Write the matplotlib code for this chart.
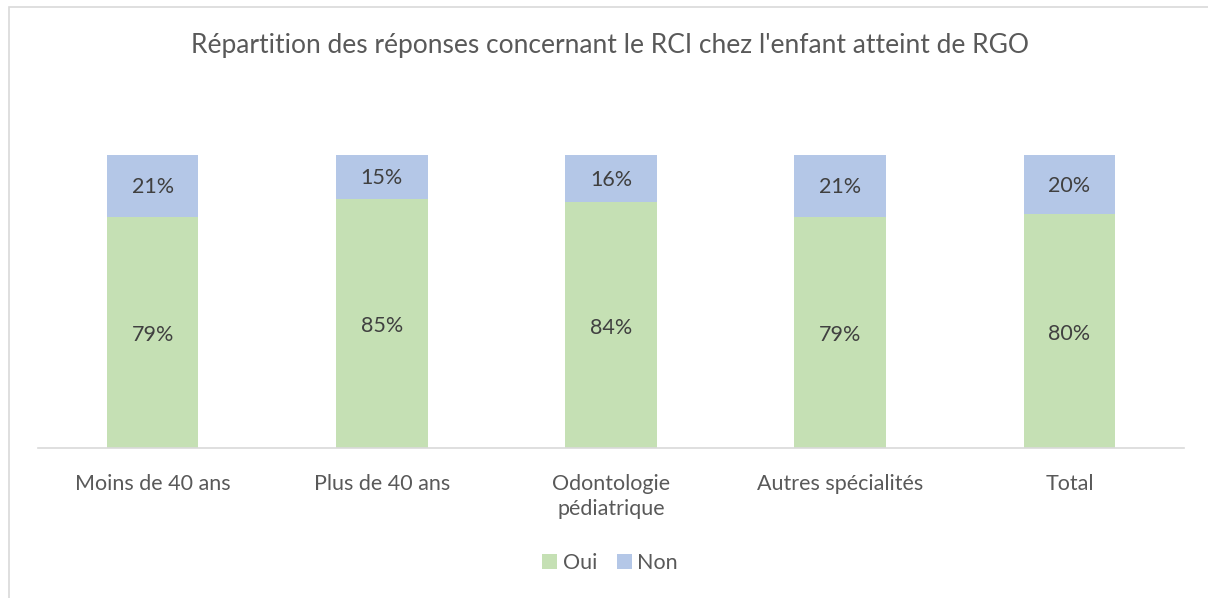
import matplotlib
matplotlib.use("Agg")
import matplotlib.pyplot as plt
from matplotlib.patches import Rectangle
import numpy as np

plt.rcParams["font.family"] = ["Lato", "DejaVu Sans"]

categories = ["Moins de 40 ans", "Plus de 40 ans", "Odontologie\npédiatrique",
              "Autres spécialités", "Total"]
oui = [79, 85, 84, 79, 80]
non = [21, 15, 16, 21, 20]

GREEN = "#C5E0B4"
BLUE = "#B4C7E7"
TXT = "#595959"
LBL = "#404040"

W, H = 1208, 598
fig = plt.figure(figsize=(W / 100, H / 100), dpi=100)
fig.patches.append(Rectangle((9 / W, -0.1), 1.2, 1 - 7 / H + 0.1,
                             transform=fig.transFigure, fill=False,
                             edgecolor="#D9D9D9", linewidth=1.2))

ax = fig.add_axes([38 / W, 1 - 448 / H, (1184 - 38) / W, (448 - 155) / H])
x = np.arange(len(categories))
ax.bar(x, oui, width=0.4, color=GREEN, label="Oui")
ax.bar(x, non, width=0.4, bottom=oui, color=BLUE, label="Non")

for xi, o, n in zip(x, oui, non):
    ax.text(xi, o / 2 - 1, f"{o}%", ha="center", va="center", fontsize=15.5, color=LBL)
    ax.text(xi, o + n / 2 - 0.5, f"{n}%", ha="center", va="center", fontsize=15.5, color=LBL)

ax.set_xlim(-0.5, len(categories) - 0.5)
ax.set_ylim(0, 100)
ax.set_yticks([])
ax.set_xticks(x)
ax.set_xticklabels(categories, fontsize=15.5, color=TXT, va="top", linespacing=1.3)
ax.tick_params(axis="x", length=0, pad=19)
for s in ["top", "right", "left"]:
    ax.spines[s].set_visible(False)
ax.spines["bottom"].set_color("#D9D9D9")
ax.spines["bottom"].set_linewidth(1.2)

fig.text(0.505, 1 - 46 / H, "Répartition des réponses concernant le RCI chez l'enfant atteint de RGO",
         ha="center", va="center", fontsize=19, color=TXT)

fig.legend(loc="center", bbox_to_anchor=(0.505, 1 - 563 / H), ncol=2, frameon=False,
           fontsize=15.5, labelcolor=TXT, handlelength=0.7, handleheight=0.7,
           handletextpad=0.25, columnspacing=0.9)

fig.savefig("out.png", dpi=100)
